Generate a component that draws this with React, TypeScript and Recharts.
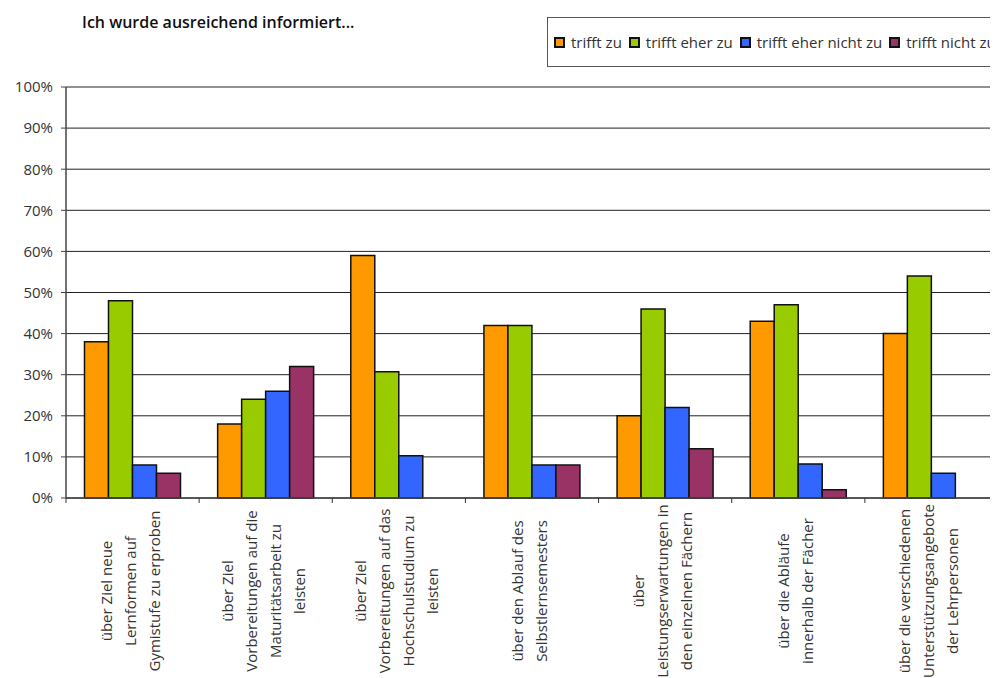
import React from "react";
import { BarChart, Bar, XAxis, YAxis, CartesianGrid } from "recharts";

const title = "Ich wurde ausreichend informiert...";
const seriesNames = ["trifft zu", "trifft eher zu", "trifft eher nicht zu", "trifft nicht zu"];
const seriesColors = ["#FF9900", "#99CC00", "#3366FF", "#993366"];
const categories = [
  "über Ziel neue|Lernformen auf|Gymistufe zu erproben",
  "über Ziel|Vorbereitungen auf die|Maturitätsarbeit zu|leisten",
  "über Ziel|Vorbereitungen auf das|Hochschulstudium zu|leisten",
  "über den Ablauf des|Selbstlernsemesters",
  "über|Leistungserwartungen in|den einzelnen Fächern",
  "über die Abläufe|innerhalb der Fächer",
  "über die verschiedenen|Unterstützungsangebote|der Lehrpersonen",
];
const trifftZu = [38, 18, 59, 42, 20, 43, 40];
const trifftEherZu = [48, 24, 30.7, 42, 46, 47, 54];
const trifftEherNichtZu = [8, 26, 10.3, 8, 22, 8.3, 6];
const trifftNichtZu: (number | null)[] = [6, 32, null, 8, 12, 2, null];
const yTicks = [0, 10, 20, 30, 40, 50, 60, 70, 80, 90, 100];

const data = categories.map((c, i) => ({
  name: c,
  s0: trifftZu[i],
  s1: trifftEherZu[i],
  s2: trifftEherNichtZu[i],
  s3: trifftNichtZu[i],
}));

const FONT = "'Open Sans', 'DejaVu Sans', sans-serif";

const XTick = (props: any) => {
  const { x, y, payload, index } = props;
  const half = payload && payload.offset ? payload.offset : 66.57;
  const lines = String(payload.value).split("|");
  const n = lines.length;
  const lineH = 24;
  return (
    <g>
      <line x1={x - half} x2={x - half} y1={y - 8} y2={y - 3} stroke="#333" strokeWidth={1} />
      {index === categories.length - 1 ? (
        <line x1={x + half} x2={x + half} y1={y - 8} y2={y - 3} stroke="#333" strokeWidth={1} />
      ) : null}
      <g transform={`translate(${x - 2},583) rotate(-90)`}>
        {lines.map((l, i) => (
          <text
            key={i}
            x={0}
            y={(i - (n - 1) / 2) * lineH + 5}
            textAnchor="middle"
            fontSize={15}
            fontFamily={FONT}
            fill="#333"
          >
            {l}
          </text>
        ))}
      </g>
    </g>
  );
};

export default function App() {
  return (
    <div style={{ position: "relative", width: 990, height: 670, overflow: "hidden", background: "#fff" }}>
      <div
        style={{
          position: "absolute",
          left: 74,
          top: 3,
          fontFamily: FONT,
          fontSize: 16,
          fontWeight: 600,
          color: "#111",
          whiteSpace: "nowrap",
        }}
      >
        {title}
      </div>
      <div
        style={{
          position: "absolute",
          left: 539,
          top: 9,
          width: 540,
          height: 50,
          border: "1px solid #555",
          boxSizing: "border-box",
          display: "flex",
          alignItems: "center",
          paddingLeft: 6,
          fontFamily: FONT,
          fontSize: 15,
          color: "#333",
          whiteSpace: "nowrap",
          zIndex: 2,
          background: "#fff",
        }}
      >
        {seriesNames.map((s, i) => (
          <div key={s} style={{ display: "flex", alignItems: "center", marginRight: 7 }}>
            <span
              style={{
                display: "inline-block",
                width: 11,
                height: 11,
                border: "2px solid #111",
                background: seriesColors[i],
                boxSizing: "border-box",
                marginRight: 6,
              }}
            />
            <span>{s}</span>
          </div>
        ))}
      </div>
      <BarChart
        width={990}
        height={670}
        data={data}
        margin={{ top: 79, right: 0, left: 0, bottom: 0 }}
        barCategoryGap={18.5}
        barGap={0}
      >
        <CartesianGrid vertical={false} stroke="#222" strokeWidth={1} />
        <YAxis
          type="number"
          domain={[0, 100]}
          ticks={yTicks}
          interval={0}
          width={58}
          tickFormatter={(v: number) => `${v}%`}
          tickSize={5}
          tickMargin={8}
          axisLine={{ stroke: "#444", strokeWidth: 1.5 }}
          tickLine={{ stroke: "#444" }}
          tick={{ fontSize: 15, fontFamily: FONT, fill: "#333" }}
        />
        <XAxis
          dataKey="name"
          interval={0}
          height={180}
          tickLine={false}
          axisLine={{ stroke: "#444", strokeWidth: 1.5 }}
          tick={<XTick />}
          tickSize={8}
          tickMargin={0}
        />
        {seriesNames.map((s, i) => (
          <Bar
            key={s}
            dataKey={`s${i}`}
            name={s}
            fill={seriesColors[i]}
            stroke="#111"
            strokeWidth={1.5}
            isAnimationActive={false}
          />
        ))}
      </BarChart>
    </div>
  );
}
